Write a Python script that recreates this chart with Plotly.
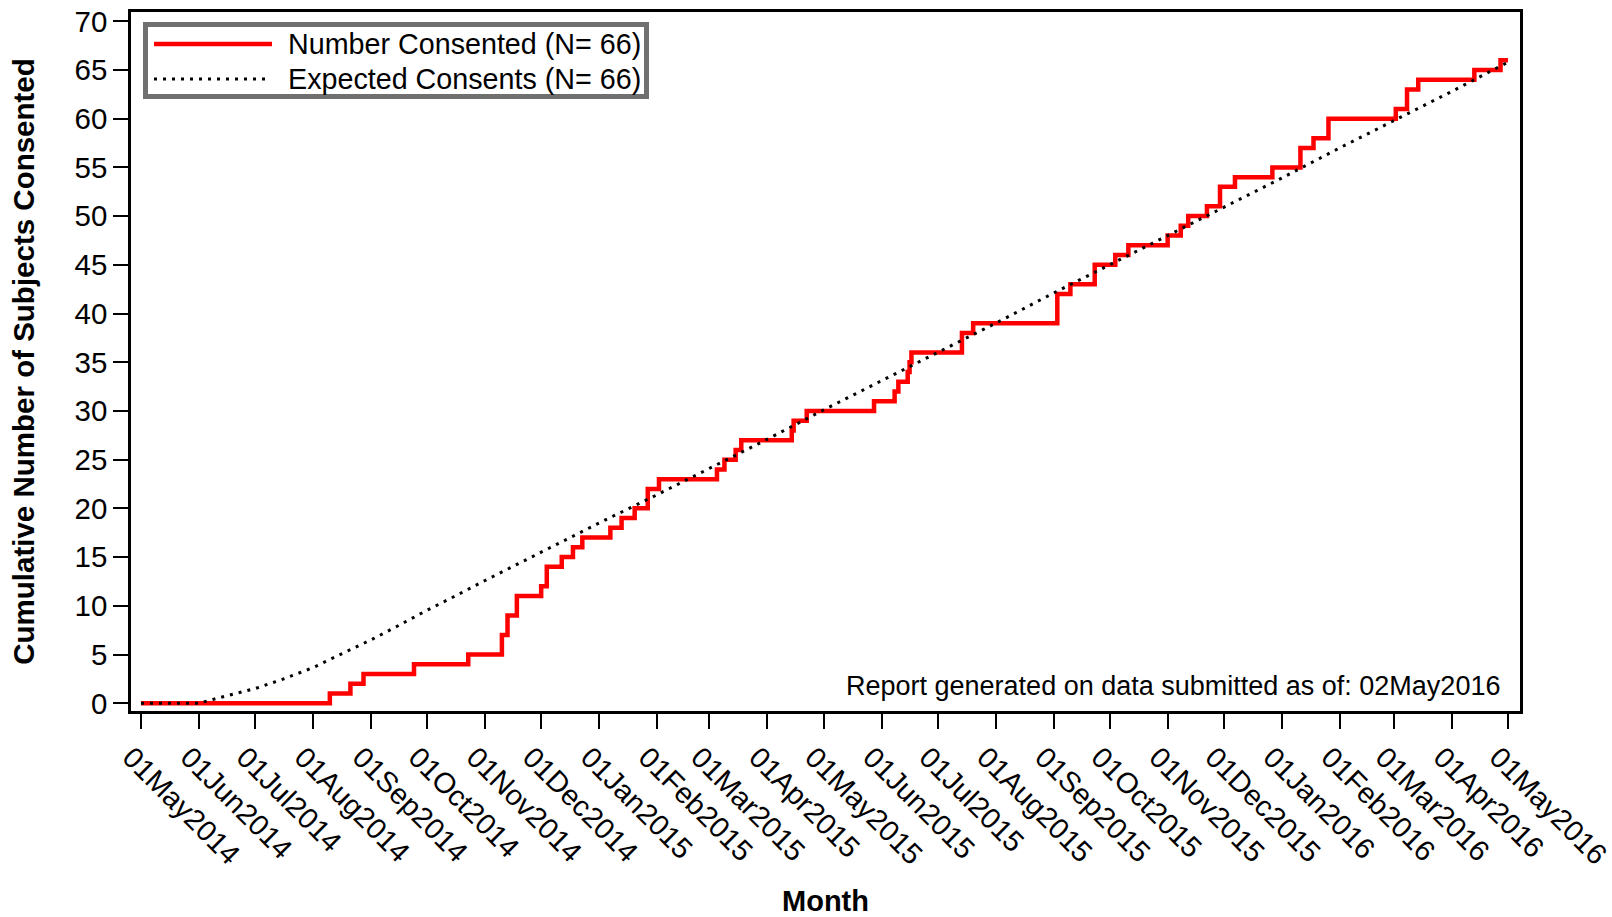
import pandas as pd
import plotly.graph_objects as go

# ---------------- data ----------------
tick_labels = ["01May2014", "01Jun2014", "01Jul2014", "01Aug2014", "01Sep2014", "01Oct2014",
               "01Nov2014", "01Dec2014", "01Jan2015", "01Feb2015", "01Mar2015", "01Apr2015",
               "01May2015", "01Jun2015", "01Jul2015", "01Aug2015", "01Sep2015", "01Oct2015",
               "01Nov2015", "01Dec2015", "01Jan2016", "01Feb2016", "01Mar2016", "01Apr2016",
               "01May2016"]

consent_dates = ["2014-05-01", "2014-08-10", "2014-08-21", "2014-08-28", "2014-09-24", "2014-10-23",
                 "2014-11-10", "2014-11-13", "2014-11-18", "2014-12-01", "2014-12-04", "2014-12-12",
                 "2014-12-18", "2014-12-23", "2015-01-07", "2015-01-13", "2015-01-20", "2015-01-27",
                 "2015-02-02", "2015-03-05", "2015-03-09", "2015-03-15", "2015-03-18", "2015-04-14",
                 "2015-04-15", "2015-04-22", "2015-05-28", "2015-06-08", "2015-06-10", "2015-06-15",
                 "2015-06-16", "2015-06-17", "2015-07-14", "2015-07-20", "2015-09-03", "2015-09-10",
                 "2015-09-23", "2015-10-04", "2015-10-11", "2015-11-01", "2015-11-08", "2015-11-12",
                 "2015-11-22", "2015-11-29", "2015-12-07", "2015-12-27", "2016-01-11", "2016-01-18",
                 "2016-01-26", "2016-03-02", "2016-03-08", "2016-03-14", "2016-04-13", "2016-04-27",
                 "2016-05-01"]
consent_counts = [0, 1, 2, 3, 4, 5,
                  7, 9, 11, 12, 14, 15,
                  16, 17, 18, 19, 20, 22,
                  23, 24, 25, 26, 27, 28,
                  29, 30, 31, 32, 33, 34,
                  35, 36, 38, 39, 42, 43,
                  45, 46, 47, 48, 49, 50,
                  51, 53, 54, 55, 57, 58,
                  60, 61, 63, 64, 65, 66,
                  66]

expected_dates = ["2014-05-01", "2014-06-01", "2014-06-15", "2014-07-01", "2014-07-15", "2014-08-01",
                  "2014-08-15", "2014-09-01", "2014-09-15", "2014-10-01", "2014-10-15", "2014-11-01",
                  "2014-12-01", "2015-01-01", "2015-02-01", "2015-03-01", "2015-04-01", "2015-05-01",
                  "2015-06-01", "2015-07-01", "2015-08-01", "2015-09-01", "2015-10-01", "2015-11-01",
                  "2015-12-01", "2016-01-01", "2016-02-01", "2016-03-01", "2016-04-01", "2016-05-01"]
expected_values = [0, 0, 0.72, 1.5, 2.4, 3.65,
                   4.95, 6.5, 7.9, 9.55, 10.9, 12.6,
                   15.5, 18.5, 21.4, 24.1, 27.1, 30.1,
                   33.1, 36.0, 39.0, 42.1, 45.0, 48.0,
                   50.9, 53.9, 57.0, 59.8, 62.8, 65.8]

name_actual = "Number Consented (N= 66)"
name_expected = "Expected Consents (N= 66)"
note_text = "Report generated on data submitted as of: 02May2016"

# ---------------- figure ----------------
FONT = "Arial, 'Liberation Sans', Helvetica, sans-serif"
W, H = 1612, 917
ML, MR, MT, MB = 131, 92, 12, 206
PW, PH = W - ML - MR, H - MT - MB


def px(x):
    return (x - ML) / PW


def py(y):
    return (H - MB - y) / PH


tick_vals = pd.to_datetime(tick_labels, format="%d%b%Y")

fig = go.Figure()
fig.add_trace(go.Scatter(
    x=pd.to_datetime(consent_dates), y=consent_counts, mode="lines", name=name_actual,
    line=dict(color="#ff0000", width=4.5, shape="hv"), showlegend=False))
fig.add_trace(go.Scatter(
    x=pd.to_datetime(expected_dates), y=expected_values, mode="lines", name=name_expected,
    line=dict(color="#000000", width=3, dash="3px,6px"), showlegend=False))

axis_common = dict(showline=True, linecolor="#000000", linewidth=2.5, mirror=True,
                   ticks="outside", ticklen=15, tickwidth=2, tickcolor="#000000",
                   showgrid=False, zeroline=False)

fig.update_xaxes(**axis_common, type="date",
                 range=["2014-04-25 16:00", "2016-05-07 10:00"],
                 tickvals=tick_vals, ticktext=tick_labels, tickangle=45,
                 tickfont=dict(family=FONT, size=29, color="#000000"),
                 ticklabeloverflow="allow", ticklabelshift=-10,
                 title=dict(text="<b>Month</b>", font=dict(family=FONT, size=29, color="#000000"),
                            standoff=30))
fig.update_yaxes(**axis_common, range=[-0.8, 70.95], tick0=0, dtick=5,
                 tickfont=dict(family=FONT, size=29.5, color="#000000"),
                 title=dict(text="<b>Cumulative Number of Subjects Consented</b>",
                            font=dict(family=FONT, size=29.5, color="#000000"), standoff=32))

# legend drawn by hand (long line samples, grey frame)
shapes = [
    dict(type="rect", xref="paper", yref="paper", x0=px(145.5), x1=px(646.5), y0=py(96.5), y1=py(24.5),
         line=dict(color="#707070", width=5), fillcolor="#ffffff", layer="above"),
    dict(type="line", xref="paper", yref="paper", x0=px(154), x1=px(272), y0=py(44), y1=py(44),
         line=dict(color="#ff0000", width=4.5), layer="above"),
    dict(type="line", xref="paper", yref="paper", x0=px(154), x1=px(266), y0=py(79), y1=py(79),
         line=dict(color="#000000", width=3, dash="3px,6px"), layer="above"),
]
annotations = [
    dict(xref="paper", yref="paper", x=px(286), y=py(44), xanchor="left", yanchor="middle",
         text=name_actual, showarrow=False, font=dict(family=FONT, size=28.7, color="#000000")),
    dict(xref="paper", yref="paper", x=px(286), y=py(79), xanchor="left", yanchor="middle",
         text=name_expected, showarrow=False, font=dict(family=FONT, size=28.7, color="#000000")),
    dict(xref="paper", yref="paper", x=px(1502), y=py(686), xanchor="right", yanchor="middle",
         text=note_text, showarrow=False, font=dict(family=FONT, size=27, color="#000000")),
]

fig.update_layout(template="none", width=W, height=H,
                  margin=dict(l=ML, r=MR, t=MT, b=MB, pad=0),
                  paper_bgcolor="#ffffff", plot_bgcolor="#ffffff",
                  font=dict(family=FONT, color="#000000"),
                  shapes=shapes, annotations=annotations, showlegend=False)

fig.write_html("out.html", config={"displayModeBar": False},
               post_script="document.body.style.margin='0';document.body.style.overflow='hidden';")
